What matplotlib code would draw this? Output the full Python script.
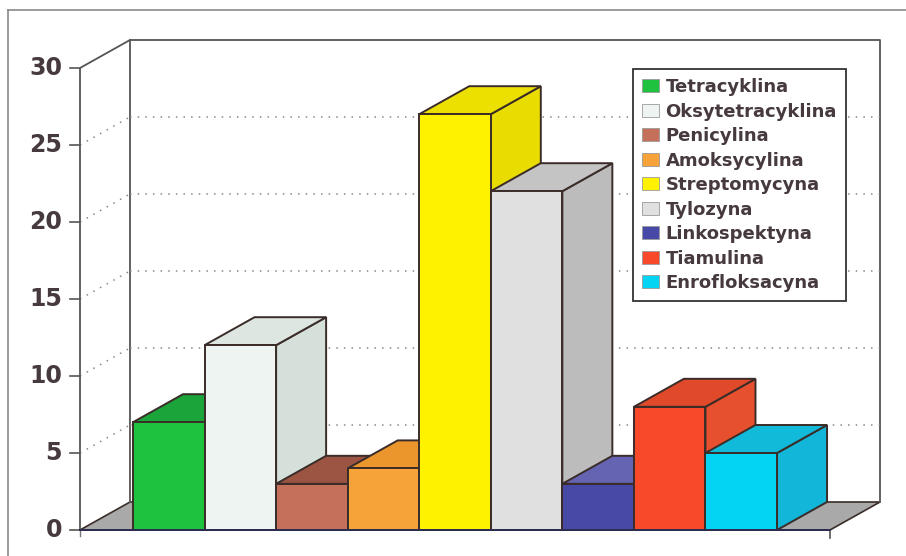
import matplotlib
matplotlib.use("Agg")
import matplotlib.pyplot as plt
from matplotlib.patches import Polygon, Patch

# ---- data ----
drugs = ["Tetracyklina", "Oksytetracyklina", "Penicylina", "Amoksycylina",
         "Streptomycyna", "Tylozyna", "Linkospektyna", "Tiamulina", "Enrofloksacyna"]
values = [7, 12, 3, 4, 27, 22, 3, 8, 5]
yticks = [0, 5, 10, 15, 20, 25, 30]
front_colors = ["#1fc23e", "#eef4f1", "#c4705a", "#f6a43a", "#fff200",
                "#e0e0e0", "#4848a6", "#f84a2a", "#04d4f4"]
top_colors = ["#1aa43a", "#dde6e0", "#9c5443", "#eb962c", "#ece000",
              "#c4c4c4", "#6464b2", "#e04a2a", "#12bada"]
side_colors = ["#189a34", "#d6e0da", "#8c4a3c", "#de8a26", "#e8dc00",
               "#bcbcbc", "#3a3a90", "#e6502e", "#12b6d8"]

# ---- geometry (scale: 1 x-unit = one bar width, y-unit = data value) ----
W, H = 906, 556
BW = 71.56          # px per bar
PY = 15.4           # px per value unit
X0PX, Y0PX = 80, 530
DX = 50 / BW        # depth offset in data units
DY = 28 / PY
START = 53 / BW     # gap before first bar
XEND = 750 / BW     # floor front right end
YMAX = 30

fig = plt.figure(figsize=(W / 100, H / 100), dpi=100)
ax = fig.add_axes([0, 0, 1, 1])
ax.set_xlim(-X0PX / BW, (W - X0PX) / BW)
ax.set_ylim(-(H - Y0PX) / PY, Y0PX / PY)
ax.axis("off")

edge = "#3a2c28"
txtc = "#463a3e"

# outer frame (left and top)
fl = -72 / BW
ft = (Y0PX - 10) / PY
ax.plot([fl, fl], [ax.get_ylim()[0], ft], color="#8a8a8a", lw=1.2)
ax.plot([fl, ax.get_xlim()[1]], [ft, ft], color="#8a8a8a", lw=1.2)

# floor
floor = Polygon([(0, 0), (XEND, 0), (XEND + DX, DY), (DX, DY)], closed=True,
                facecolor="#a9a9a9", edgecolor=edge, lw=1.2, zorder=1)
ax.add_patch(floor)

# back wall outline
ax.plot([DX, DX, XEND + DX, XEND + DX], [DY, YMAX + DY, YMAX + DY, DY],
        color="#555555", lw=1.3, zorder=2)
# left wall outline
ax.plot([0, 0, DX], [0, YMAX, YMAX + DY], color="#555555", lw=1.3, zorder=2)

# gridlines
for t in yticks[1:-1]:
    ax.plot([DX, XEND + DX], [t + DY, t + DY], color="#888888", lw=1.1,
            ls=(0, (1, 4)), zorder=2)
    ax.plot([0, DX], [t, t + DY], color="#888888", lw=1.1,
            ls=(0, (1, 4)), zorder=2)

# ticks and labels
for t in yticks:
    ax.plot([-10 / BW, 0], [t, t], color="#555555", lw=1.2, zorder=2)
    ax.text(-18 / BW, t, str(t), ha="right", va="center", fontsize=17,
            fontweight="bold", color=txtc)
# small tick marks below the front floor edge
ax.plot([0, 0], [0, -6 / PY], color="#777777", lw=1.0)
ax.plot([XEND, XEND], [0, -8 / PY], color="#555555", lw=1.2)

# bars
for i, (v, fc, tc, sc) in enumerate(zip(values, front_colors, top_colors, side_colors)):
    x1 = START + i
    x2 = x1 + 1
    side = Polygon([(x2, 0), (x2 + DX, DY), (x2 + DX, v + DY), (x2, v)],
                   closed=True, facecolor=sc, edgecolor=edge, lw=1.4, zorder=3)
    top = Polygon([(x1, v), (x2, v), (x2 + DX, v + DY), (x1 + DX, v + DY)],
                  closed=True, facecolor=tc, edgecolor=edge, lw=1.4, zorder=3)
    front = Polygon([(x1, 0), (x2, 0), (x2, v), (x1, v)], closed=True,
                    facecolor=fc, edgecolor=edge, lw=1.4, zorder=3)
    for p in (side, top, front):
        ax.add_patch(p)

# front floor edge on top
ax.plot([0, XEND], [0, 0], color="#2c2c50", lw=1.4, zorder=4)

# legend
handles = [Patch(facecolor=c, edgecolor="#9a9a9a", lw=0.6) for c in front_colors]
leg = fig.legend(handles, drugs, loc="upper left",
                 bbox_to_anchor=(633 / W, 1 - 69 / H),
                 prop={"size": 13, "weight": "bold"}, labelcolor=txtc,
                 frameon=True, fancybox=False, shadow=False,
                 handlelength=0.95, handleheight=0.75, handletextpad=0.35,
                 labelspacing=0.36, borderpad=0.5, borderaxespad=0)
leg.get_frame().set_edgecolor("#333333")
leg.get_frame().set_linewidth(1.3)
leg.get_frame().set_facecolor("white")
leg.get_frame().set_alpha(1)

fig.savefig("out.png", dpi=100)
